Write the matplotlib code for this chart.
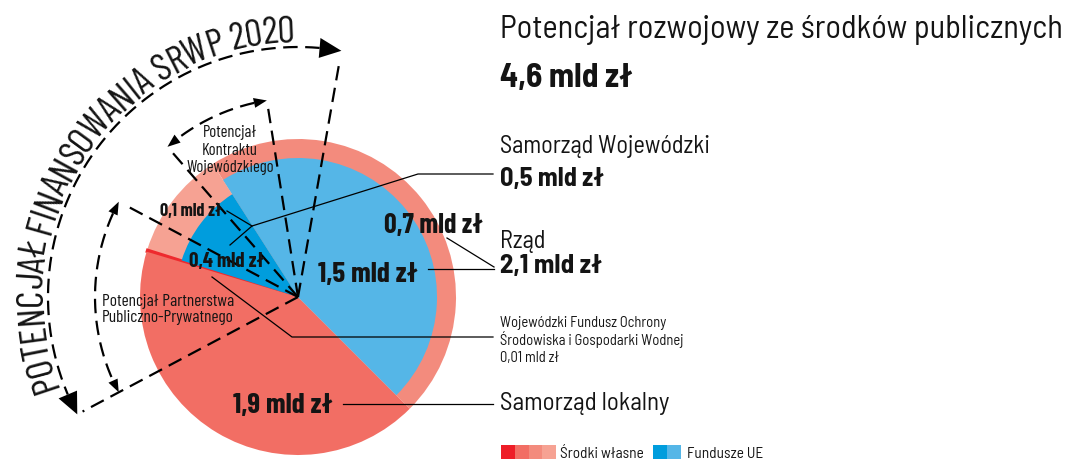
"""Potencjał finansowania SRWP 2020 – wykres kołowy z opisami."""
import numpy as np
import matplotlib
matplotlib.use("Agg")
import matplotlib.pyplot as plt
from matplotlib.font_manager import FontProperties, findfont
from matplotlib.ft2font import FT2Font
from matplotlib.patches import Polygon, Rectangle

FONT = ["Barlow Condensed", "DejaVu Sans"]
FONT_WIDE = ["Barlow Semi Condensed", "DejaVu Sans"]
plt.rcParams["font.family"] = FONT

# dane (mld zł)
sectors = ["Rząd", "Samorząd Wojewódzki", "WFOŚiGW", "Samorząd lokalny"]
sector_totals = [2.1, 0.5, 0.01, 1.9]
eu_funds = [1.5, 0.4, 0.0, 0.0]
own_funds = [0.7, 0.1, 0.01, 1.9]
total_public = 4.6

# kolory
LOKALNY = "#f26e64"
RZAD_WL = "#f38b7d"
WOJ_WL = "#f6a293"
WFOS = "#ee2a2e"
RZAD_UE = "#55b6e7"
WOJ_UE = "#009ddd"
INK = "#141414"
own_swatches = ["#ee1d27", LOKALNY, RZAD_WL, WOJ_WL]
eu_swatches = [WOJ_UE, RZAD_UE]

W, H = 1071, 460
CX, CY = 298, H - 298
R_OUT, R_RZAD, R_WOJ = 158, 139, 122


def P(x, y):
    """Współrzędne pikselowe (y od góry) -> układ osi."""
    return x, H - y


def mld(v, digits=1):
    return f"{v:.{digits}f}".replace(".", ",") + " mld zł"


fig = plt.figure(figsize=(W / 100, H / 100), dpi=100)
ax = fig.add_axes([0, 0, 1, 1])

# koło: zewnętrzny pierścień = środki własne, wnętrze = fundusze UE
common = dict(startangle=-45, counterclock=True, center=(CX, CY),
              wedgeprops=dict(linewidth=0), frame=True)
outer, _ = ax.pie(sector_totals, radius=R_OUT,
                  colors=[RZAD_WL, WOJ_WL, WFOS, LOKALNY], **common)
outer[2].set_edgecolor(WFOS)
outer[2].set_linewidth(1.6)
ax.pie(sector_totals, radius=R_RZAD, colors=[RZAD_UE, "none", "none", "none"], **common)
ax.pie(sector_totals, radius=R_WOJ, colors=["none", WOJ_UE, "none", "none"], **common)

# linie przerywane i strzałki
DASH = dict(color="black", lw=1.6, dashes=(6.5, 3.4), dash_capstyle="butt")


def pt(r, a):
    t = np.radians(a)
    return CX + r * np.cos(t), CY + r * np.sin(t)


def head(r, a_tip, sign, length, width):
    a_base = a_tip - sign * np.degrees(length / r)
    tx, ty = pt(r, a_tip)
    bx, by = pt(r, a_base)
    ux, uy = np.cos(np.radians(a_base)), np.sin(np.radians(a_base))
    ax.add_patch(Polygon([(tx, ty), (bx + ux * width / 2, by + uy * width / 2),
                          (bx - ux * width / 2, by - uy * width / 2)],
                         closed=True, color="black", lw=0))
    return a_base


def dashed_arc(r, a0, a1, length, width):
    b0 = head(r, a0, -1, length, width)
    b1 = head(r, a1, 1, length, width)
    t = np.radians(np.linspace(b0, b1, 200))
    ax.plot(CX + r * np.cos(t), CY + r * np.sin(t), **DASH)


def radial(a, r):
    x, y = pt(r, a)
    ax.plot([CX, x], [CY, y], **DASH)


dashed_arc(250, 80, 208, 22, 20)
dashed_arc(199, 99, 131, 13, 10)
dashed_arc(203, 152, 208, 13, 10)
for a, r in [(80, 242), (99, 194), (131, 194), (152, 197), (208, 244)]:
    radial(a, r)


def curved_text(text, r_base, a_first, a_last, cap):
    """Napis wzdłuż łuku, od a_first do a_last zgodnie z ruchem wskazówek."""
    prop = FontProperties(family=FONT, size=10)
    font = FT2Font(findfont(prop))
    font.set_size(10, 100)
    adv = np.array([font.load_char(ord(c)).linearHoriAdvance / 65536 for c in text])
    r_mid = r_base + cap / 2
    span = np.radians(a_first - a_last) * r_mid
    scale = span / (adv.sum() - adv[0] / 2 - adv[-1] / 2)
    size = 10 * scale
    centers = (np.cumsum(adv) - adv / 2 - adv[0] / 2) * scale
    for ch, c in zip(text, centers):
        a = a_first - np.degrees(c / r_mid)
        x, y = pt(r_base, a)
        ax.text(x, y, ch, fontsize=size, rotation=a - 90, rotation_mode="anchor",
                ha="center", va="baseline", color=INK)


curved_text("POTENCJAŁ FINANSOWANIA SRWP 2020", 256, 198.5, 92.5, 26)

# opisy łuków
for txt, y in [("Potencjał", 137), ("Kontraktu", 155), ("Wojewódzkiego", 172)]:
    ax.text(*P(230, y), txt, fontsize=12, ha="center", va="baseline", color=INK)
for txt, y in [("Potencjał Partnerstwa", 306), ("Publiczno-Prywatnego", 322)]:
    ax.text(*P(102, y), txt, fontsize=12.5, ha="left", va="baseline", color=INK)

# wartości na kole
BOLD = dict(fontweight="bold", ha="center", va="baseline", color=INK)
ax.text(*P(434, 233), mld(own_funds[0]), fontsize=20, **BOLD)
ax.text(*P(368, 282), mld(eu_funds[0]), fontsize=21, **BOLD)
ax.text(*P(283, 413), mld(own_funds[3]), fontsize=21, **BOLD)
ax.text(*P(227, 267), mld(eu_funds[1]), fontsize=15, **BOLD)
ax.text(*P(191, 216), mld(own_funds[1]), fontsize=13, **BOLD)

# linie odniesienia
LEAD = dict(color="black", lw=0.9)
leaders = [
    [(493, 175), (418, 175), (252, 227), (230, 246)],
    [(252, 227), (227, 212)],
    [(447, 239), (494, 268)],
    [(428, 270), (494, 270)],
    [(212, 278), (292, 338), (493, 338)],
    [(343, 405), (493, 405)],
]
for line in leaders:
    xs, ys = zip(*[P(x, y) for x, y in line])
    ax.plot(xs, ys, **LEAD)

# opisy po prawej
LEFT = dict(ha="left", va="baseline", color=INK, family=FONT_WIDE)
ax.text(*P(500, 38), "Potencjał rozwojowy ze środków publicznych", fontsize=23.3, **LEFT)
ax.text(*P(500, 87), mld(total_public), fontsize=24, fontweight="bold", **LEFT)
ax.text(*P(500, 153), sectors[1], fontsize=17.5, **LEFT)
ax.text(*P(500, 186), mld(sector_totals[1]), fontsize=19, fontweight="bold", **LEFT)
ax.text(*P(500, 248), sectors[0], fontsize=17.5, **LEFT)
ax.text(*P(500, 273), mld(sector_totals[0]), fontsize=19.5, fontweight="bold", **LEFT)
for txt, y in [("Wojewódzki Fundusz Ochrony", 327),
               ("Środowiska i Gospodarki Wodnej", 345),
               (mld(sector_totals[2], 2), 362)]:
    ax.text(*P(500, y), txt, fontsize=10.5, **LEFT)
ax.text(*P(500, 410), sectors[3], fontsize=18, **LEFT)

# legenda
for i, c in enumerate(own_swatches):
    ax.add_patch(Rectangle(P(501 + i * 13.75, 460), 13.75, 14, color=c, lw=0))
ax.text(*P(560, 458), "Środki własne", fontsize=11, **LEFT)
for i, c in enumerate(eu_swatches):
    ax.add_patch(Rectangle(P(653 + i * 14, 460), 14, 14, color=c, lw=0))
ax.text(*P(687, 458), "Fundusze UE", fontsize=11, **LEFT)

ax.set_xlim(0, W)
ax.set_ylim(0, H)
ax.set_aspect("equal")
ax.axis("off")
fig.savefig("out.png", dpi=100)
